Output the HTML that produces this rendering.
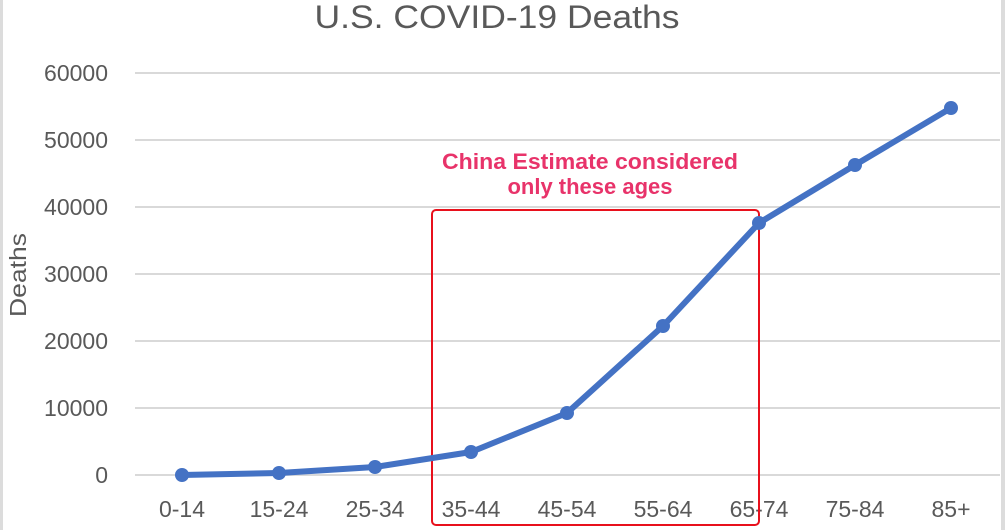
<!DOCTYPE html>
<html>
<head>
<meta charset="utf-8">
<style>
html,body{margin:0;padding:0;background:#fff;}
svg{display:block;}
</style>
</head>
<body>
<svg width="1005" height="530" viewBox="0 0 1005 530" xmlns="http://www.w3.org/2000/svg">
  <rect x="0" y="0" width="1005" height="530" fill="#ffffff"/>
  <!-- borders -->
  <rect x="0" y="0" width="3" height="530" fill="#dcdcdc"/>
  <rect x="1001" y="0" width="4" height="530" fill="#dcdcdc"/>

  <!-- title -->
  <text x="497" y="28" font-family="Liberation Sans, sans-serif" font-size="32" fill="#595959" text-anchor="middle" textLength="365" lengthAdjust="spacingAndGlyphs">U.S. COVID-19 Deaths</text>

  <!-- gridlines -->
  <g stroke="#d9d9d9" stroke-width="2">
    <line x1="135" y1="73" x2="1000" y2="73"/>
    <line x1="135" y1="140" x2="1000" y2="140"/>
    <line x1="135" y1="207" x2="1000" y2="207"/>
    <line x1="135" y1="274" x2="1000" y2="274"/>
    <line x1="135" y1="341" x2="1000" y2="341"/>
    <line x1="135" y1="408" x2="1000" y2="408"/>
    <line x1="135" y1="475" x2="1000" y2="475"/>
  </g>

  <!-- y tick labels -->
  <g font-family="Liberation Sans, sans-serif" font-size="23" fill="#595959" text-anchor="end">
    <text x="108" y="81">60000</text>
    <text x="108" y="148">50000</text>
    <text x="108" y="215">40000</text>
    <text x="108" y="282">30000</text>
    <text x="108" y="349">20000</text>
    <text x="108" y="416">10000</text>
    <text x="108" y="483">0</text>
  </g>

  <!-- y axis title -->
  <text transform="translate(26,275) rotate(-90)" font-family="Liberation Sans, sans-serif" font-size="23" fill="#595959" text-anchor="middle" textLength="84" lengthAdjust="spacingAndGlyphs">Deaths</text>

  <!-- x tick labels -->
  <g font-family="Liberation Sans, sans-serif" font-size="23" fill="#595959" text-anchor="middle">
    <text x="182" y="517">0-14</text>
    <text x="279" y="517">15-24</text>
    <text x="375" y="517">25-34</text>
    <text x="471" y="517">35-44</text>
    <text x="567" y="517">45-54</text>
    <text x="663" y="517">55-64</text>
    <text x="759" y="517">65-74</text>
    <text x="855" y="517">75-84</text>
    <text x="951" y="517">85+</text>
  </g>

  <!-- annotation -->
  <g font-family="Liberation Sans, sans-serif" font-size="22" font-weight="bold" fill="#e8336a" text-anchor="middle">
    <text x="590" y="169" textLength="296" lengthAdjust="spacingAndGlyphs">China Estimate considered</text>
    <text x="590" y="194">only these ages</text>
  </g>

  <!-- red box -->
  <rect x="432" y="210" width="327" height="315" rx="4" ry="4" fill="none" stroke="#e8101c" stroke-width="2"/>

  <!-- series -->
  <polyline fill="none" stroke="#4472c4" stroke-width="6" stroke-linejoin="round" stroke-linecap="round"
    points="182,475 279,473 375,467 471,452 567,413 663,326 759,223 855,165 951,108"/>
  <g fill="#4472c4">
    <circle cx="182" cy="475" r="7"/>
    <circle cx="279" cy="473" r="7"/>
    <circle cx="375" cy="467" r="7"/>
    <circle cx="471" cy="452" r="7"/>
    <circle cx="567" cy="413" r="7"/>
    <circle cx="663" cy="326" r="7"/>
    <circle cx="759" cy="223" r="7"/>
    <circle cx="855" cy="165" r="7"/>
    <circle cx="951" cy="108" r="7"/>
  </g>
</svg>
</body>
</html>
